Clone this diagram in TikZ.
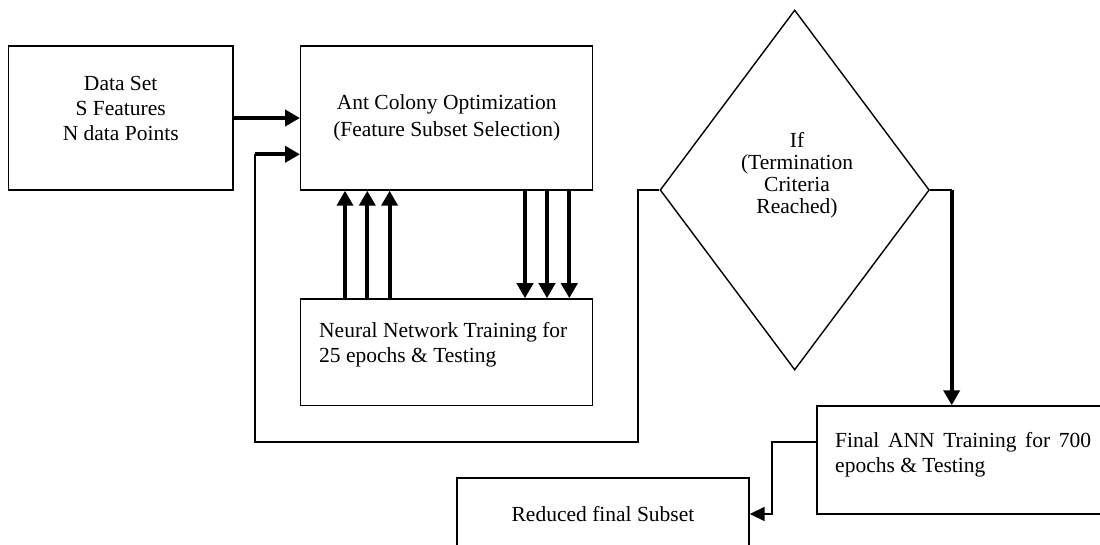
\documentclass[tikz,border=0pt]{standalone}
\usepackage{fontspec}
\setmainfont{Liberation Serif}
\usetikzlibrary{shapes.geometric}
\usetikzlibrary{arrows.meta}
\usetikzlibrary{calc}

\begin{document}
\begin{tikzpicture}[x=1pt, y=-1pt,
    block/.style={draw, line width=1.4pt, inner sep=0pt},
    txt/.style={font=\fontsize{21.5}{25}\selectfont, align=center, inner sep=0pt},
    arr/.style={line width=3.8pt, -{Triangle[length=15pt, width=16pt]}},
    wire/.style={line width=1.8pt}]
    \useasboundingbox (0,0) rectangle (1100,545);

    % Data set and ACO blocks
    \node[block, minimum width=224.7pt, minimum height=144pt] (data) at (120.7,118) {};
    \node[txt] (datatext) at (120.7,108) {Data Set\\S Features\\N data Points};
    \node[block, txt, font=\fontsize{21.5}{27}\selectfont, minimum width=292pt, minimum height=144pt] (aco) at (446.7,118)
        {Ant Colony Optimization\\(Feature Subset Selection)};

    % Network training block
    \node[block, minimum width=292pt, minimum height=106.7pt] (nn) at (446.7,352.3) {};
    \node[txt, align=left, anchor=west] (nntext) at (319,344.3) {Neural Network Training for\\25 epochs \& Testing};

    % Termination test
    \node[draw, diamond, line width=1.4pt, inner sep=0pt, minimum width=269.3pt, minimum height=360pt] (dec) at (794.7,190) {};
    \node[txt, font=\fontsize{21.5}{22}\selectfont] (dectext) at (797,175) {If\\(Termination\\Criteria\\Reached)};

    % Final training and reduced subset
    \node[block, minimum width=300pt, minimum height=108pt] (fin) at (967,460) {};
    \node[txt, align=left, anchor=west] (fintext) at (835,455)
        {\makebox[256pt][s]{Final ANN Training for 700}\\epochs \& Testing};
    \node[block, txt, minimum width=292pt, minimum height=72pt] (red) at (603,514) {Reduced final Subset};

    % Inputs to ACO
    \coordinate (loopin) at (255,154.3);
    \draw[arr] (data.east) -- (aco.west);
    \draw[arr] (loopin) -- (loopin -| aco.west);

    % Feedback loop back to ACO
    \coordinate (fbR) at (638,442);
    \coordinate (fbL) at (255,442);
    \draw[wire] (dec.west) -| (fbR) -- (fbL) -- (loopin);

    % Arrows between ACO and network
    \foreach \dx in {45,67.3,89.6} {
        \coordinate (up) at ([xshift=\dx pt]nn.north west);
        \draw[arr] (up) -- (up |- aco.south);
    }
    \foreach \dx in {225,247,269.3} {
        \coordinate (dn) at ([xshift=\dx pt]aco.south west);
        \draw[arr] (dn) -- (dn |- nn.north);
    }

    % Criteria reached
    \coordinate (turn) at (951.7,190);
    \draw[wire] (dec.east) -- (turn);
    \draw[arr] (turn) -- (turn |- fin.north);

    % Final network to reduced subset
    \coordinate (bend) at (772,442);
    \draw[wire, -{Triangle[length=15pt, width=14pt]}] (bend -| fin.west) -- (bend) |- (red.east);
\end{tikzpicture}
\end{document}
